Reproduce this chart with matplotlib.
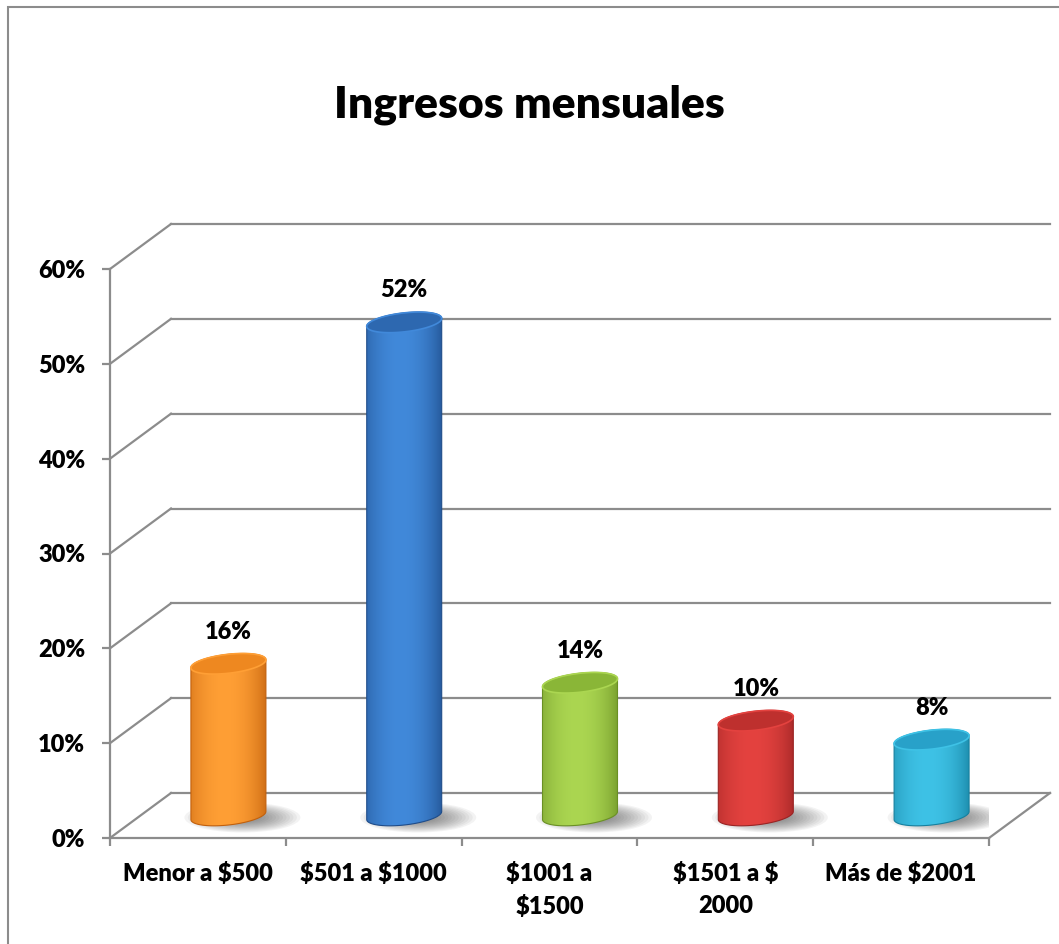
import numpy as np
import matplotlib
matplotlib.use("Agg")
import matplotlib.pyplot as plt
from matplotlib.patches import Polygon, Rectangle, Ellipse
from matplotlib.colors import to_rgb
from matplotlib.ticker import FixedLocator, FuncFormatter

# data
categories = ["Menor a $500", "$501 a $1000", "$1001 a\n$1500", "$1501 a $\n2000", "Más de $2001"]
values = [16, 52, 14, 10, 8]
y_ticks = [0, 10, 20, 30, 40, 50, 60]
title = "Ingresos mensuales"

# dark edge, light centre, top colour
bar_colors = [
    ("#C2600C", "#FF9F35", "#EE8820"),
    ("#1E4C8A", "#4189DA", "#2D68B0"),
    ("#6A9024", "#ABD651", "#8AB637"),
    ("#9A2323", "#E4423F", "#BE302E"),
    ("#15809F", "#3EC2E6", "#28A1C9"),
]

W, H = 1059, 944
GRID = "#8C8C8C"
WEIGHT = "heavy"

plt.rcParams["font.family"] = ["Lato", "DejaVu Sans"]
plt.rcParams["font.weight"] = WEIGHT
plt.rcParams["text.parse_math"] = False

fig = plt.figure(figsize=(W / 100, H / 100), dpi=100)
fig.patch.set_facecolor("white")

# front plane of the 3d box, in pixels
left, right, bottom, top = 110, 989, 838, 269
ax = fig.add_axes([left / W, (H - bottom) / H, (right - left) / W, (bottom - top) / H])
ax.set_xlim(0, 5)
ax.set_ylim(0, 60)

ppx = 5 / (right - left)        # data units per pixel in x
ppy = 60 / (bottom - top)       # data units per pixel in y
DX, DY = 61 * ppx, 45 * ppy     # depth of the box

# back wall gridlines and side wall diagonals
for v in y_ticks:
    ax.plot([DX, 5 + DX], [v + DY, v + DY], color=GRID, lw=1.6, clip_on=False, zorder=1)
    ax.plot([0, DX], [v, v + DY], color=GRID, lw=1.6, clip_on=False, zorder=1)
ax.plot([5, 5 + DX], [0, DY], color=GRID, lw=1.6, clip_on=False, zorder=1)

# cylinders
a = 37.5 * ppx
b = 9.5 * ppy
skew = 4 * ppy
base = DY / 2
t_low = np.linspace(np.pi, 2 * np.pi, 60)
t_up = np.linspace(0, np.pi, 60)
t_all = np.linspace(0, 2 * np.pi, 120)
xs = np.linspace(0, 1, 200)

for i, (v, (dark, light, topc)) in enumerate(zip(values, bar_colors)):
    cx = i + 0.5 + DX / 2
    ytop = base + v

    # soft shadow on the floor
    for k in range(12):
        s = 1 - k * 0.06
        ax.add_patch(Ellipse((cx + 14 * ppx, base - 2 * ppy), 2 * 58 * ppx * s, 2 * 15 * ppy * s,
                             facecolor="#404040", edgecolor="none", alpha=0.06, zorder=2))

    bx = np.concatenate([cx + a * np.cos(t_low), cx + a * np.cos(t_up)])
    by = np.concatenate([base + b * np.sin(t_low) + skew * np.cos(t_low),
                         ytop + b * np.sin(t_up) + skew * np.cos(t_up)])
    body = Polygon(np.column_stack([bx, by]), closed=True, facecolor="none",
                   edgecolor=dark, lw=0.8, zorder=4)
    ax.add_patch(body)

    w = np.clip(1 - ((xs - 0.45) / 0.6) ** 2, 0, 1) ** 0.8
    c0, c1 = np.array(to_rgb(dark)), np.array(to_rgb(light))
    grad = c0[None, :] * (1 - w[:, None]) + c1[None, :] * w[:, None]
    im = ax.imshow(grad[None, :, :], extent=[cx - a, cx + a, base - b - skew, ytop + b + skew],
                   aspect="auto", interpolation="bilinear", zorder=3)
    im.set_clip_path(body)

    tx = cx + a * np.cos(t_all)
    ty = ytop + b * np.sin(t_all) + skew * np.cos(t_all)
    ax.add_patch(Polygon(np.column_stack([tx, ty]), closed=True, facecolor=topc,
                         edgecolor=light, lw=1.2, zorder=5))

    ax.annotate(f"{v}%", (cx, ytop), xytext=(0, 23), textcoords="offset points",
                ha="center", va="center", fontsize=17, fontweight=WEIGHT, zorder=6)

# axes styling
for side in ["top", "right"]:
    ax.spines[side].set_visible(False)
for side in ["left", "bottom"]:
    ax.spines[side].set_color(GRID)
    ax.spines[side].set_linewidth(1.6)
ax.set_facecolor("none")

ax.yaxis.set_major_locator(FixedLocator(y_ticks))
ax.yaxis.set_major_formatter(FuncFormatter(lambda v, p: f"{int(v)}%"))
ax.tick_params(axis="y", length=6, width=1.6, color=GRID, pad=12, labelsize=17)

ax.xaxis.set_major_locator(FixedLocator(range(6)))
ax.xaxis.set_minor_locator(FixedLocator([i + 0.5 for i in range(5)]))
ax.set_xticklabels([])
ax.set_xticklabels(categories, minor=True, fontweight=WEIGHT, linespacing=1.55)
ax.tick_params(axis="x", which="major", length=6, width=1.6, color=GRID)
ax.tick_params(axis="x", which="minor", length=0, pad=17, labelsize=17)

fig.text(529 / W, 1 - 105 / H, title, ha="center", va="center", fontsize=32, fontweight=WEIGHT)

# outer chart frame
fig.add_artist(Rectangle((8 / W, -0.1), 1.2, 1.1 - 7 / H, transform=fig.transFigure,
                         fill=False, edgecolor=GRID, lw=1.5))

fig.savefig("out.png", dpi=100)
